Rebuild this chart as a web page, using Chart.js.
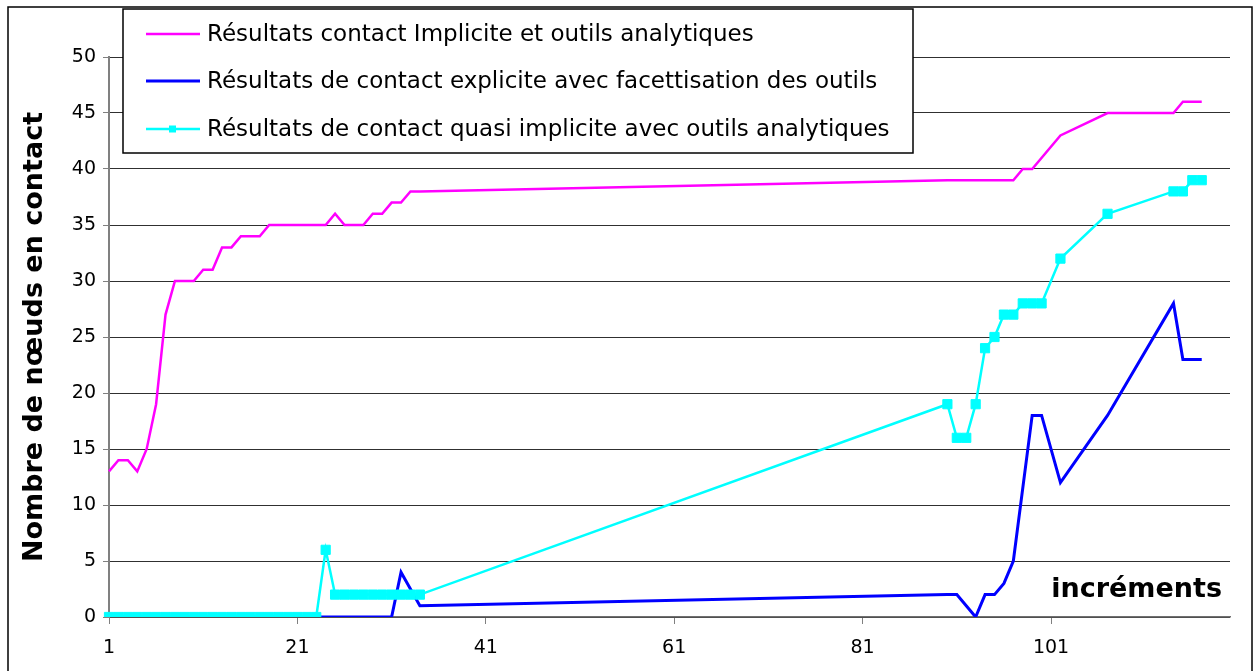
<!DOCTYPE html>
<html lang="fr">
<head>
<meta charset="utf-8">
<title>Nombre de nœuds en contact</title>
<script src="https://cdn.jsdelivr.net/npm/chart.js@4.4.1/dist/chart.umd.min.js"></script>
<style>
  html, body { margin: 0; padding: 0; background: #fff; }
  #wrap { position: relative; width: 1257px; height: 671px; }
</style>
</head>
<body>
<div id="wrap"><canvas id="chart"></canvas></div>
<script>
// increments on the x axis (1..120), only every 20th one is labelled
const increments = Array.from({ length: 120 }, (_, i) => String(i + 1));
const labelledIncrements = ['1', '21', '41', '61', '81', '101'];

const seriesNames = [
  'Résultats contact Implicite et outils analytiques',
  'Résultats de contact explicite avec facettisation des outils',
  'Résultats de contact quasi implicite avec outils analytiques',
];

// [increment, nodes in contact]
const implicite = [
  [1, 13], [2, 14], [3, 14], [4, 13], [5, 15], [6, 19], [7, 27], [8, 30], [9, 30], [10, 30],
  [11, 31], [12, 31], [13, 33], [14, 33], [15, 34], [16, 34], [17, 34], [18, 35], [19, 35], [20, 35],
  [21, 35], [22, 35], [23, 35], [24, 35], [25, 36], [26, 35], [27, 35], [28, 35], [29, 36], [30, 36],
  [31, 37], [32, 37], [33, 38], [34, 38],
  [90, 39], [91, 39], [92, 39], [93, 39], [94, 39], [95, 39], [96, 39], [97, 39], [98, 40], [99, 40],
  [102, 43],
  [107, 45], [108, 45], [109, 45], [110, 45], [111, 45], [112, 45], [113, 45], [114, 45],
  [115, 46], [116, 46], [117, 46],
];

const explicite = [
  [1, 0], [2, 0], [3, 0], [4, 0], [5, 0], [6, 0], [7, 0], [8, 0], [9, 0], [10, 0],
  [11, 0], [12, 0], [13, 0], [14, 0], [15, 0], [16, 0], [17, 0], [18, 0], [19, 0], [20, 0],
  [21, 0], [22, 0], [23, 0], [24, 0], [25, 0], [26, 0], [27, 0], [28, 0], [29, 0], [30, 0],
  [31, 0], [32, 4], [34, 1],
  [90, 2], [91, 2], [92, 1], [93, 0], [94, 2], [95, 2], [96, 3], [97, 5], [99, 18], [100, 18],
  [102, 12], [107, 18], [114, 28], [115, 23], [116, 23], [117, 23],
];

const quasiImplicite = [
  [1, 0], [2, 0], [3, 0], [4, 0], [5, 0], [6, 0], [7, 0], [8, 0], [9, 0], [10, 0],
  [11, 0], [12, 0], [13, 0], [14, 0], [15, 0], [16, 0], [17, 0], [18, 0], [19, 0], [20, 0],
  [21, 0], [22, 0], [23, 0], [24, 6], [25, 2], [26, 2], [27, 2], [28, 2], [29, 2], [30, 2],
  [31, 2], [32, 2], [33, 2], [34, 2],
  [90, 19], [91, 16], [92, 16], [93, 19], [94, 24], [95, 25], [96, 27], [97, 27], [98, 28], [99, 28],
  [100, 28], [102, 32], [107, 36], [114, 38], [115, 38], [116, 39], [117, 39],
];

const FONT = '"DejaVu Sans", "Liberation Sans", Arial, sans-serif';

// one value per increment, empty rows stay null
function toSeries(pairs) {
  const out = increments.map(() => null);
  pairs.forEach(([inc, v]) => { out[inc - 1] = v; });
  return out;
}

const chartFrame = {
  id: 'chartFrame',
  beforeDraw(chart) {
    const { ctx, width, height } = chart;
    ctx.save();
    ctx.fillStyle = '#fff';
    ctx.fillRect(0, 0, width, height);
    ctx.strokeStyle = '#000';
    ctx.lineWidth = 1.5;
    ctx.strokeRect(8, 7, 1244, 700);
    ctx.restore();
  },
};

// legend box drawn over the top of the plot
const boxLegend = {
  id: 'boxLegend',
  afterDraw(chart, args, opts) {
    const { ctx } = chart;
    const { x, y, w, h, rows } = opts;
    ctx.save();
    ctx.fillStyle = '#fff';
    ctx.fillRect(x, y, w, h);
    ctx.strokeStyle = '#000';
    ctx.lineWidth = 1.5;
    ctx.strokeRect(x, y, w, h);
    ctx.font = `23px ${FONT}`;
    ctx.textBaseline = 'middle';
    ctx.fillStyle = '#000';
    chart.data.datasets.forEach((ds, i) => {
      const ry = rows[i];
      ctx.strokeStyle = ds.borderColor;
      ctx.lineWidth = ds.borderWidth;
      ctx.beginPath();
      ctx.moveTo(x + 23, ry);
      ctx.lineTo(x + 77, ry);
      ctx.stroke();
      if (ds.pointRadius > 0) {
        ctx.fillStyle = ds.pointBackgroundColor;
        ctx.fillRect(x + 46, ry - 3.5, 7, 7);
      }
      ctx.fillStyle = '#000';
      ctx.fillText(ds.label, x + 84, ry + 1);
    });
    ctx.restore();
  },
};

const axisNote = {
  id: 'axisNote',
  afterDraw(chart, args, opts) {
    const { ctx } = chart;
    ctx.save();
    ctx.font = `bold 27px ${FONT}`;
    ctx.fillStyle = '#000';
    ctx.textAlign = 'right';
    ctx.textBaseline = 'alphabetic';
    ctx.fillText(opts.text, opts.x, opts.y);
    ctx.restore();
  },
};

new Chart(document.getElementById('chart'), {
  type: 'line',
  data: {
    labels: increments,
    datasets: [
      {
        label: seriesNames[0],
        data: toSeries(implicite),
        borderColor: '#ff00ff',
        borderWidth: 2.5,
        pointRadius: 0,
        order: 3,
      },
      {
        label: seriesNames[1],
        data: toSeries(explicite),
        borderColor: '#0000ff',
        borderWidth: 3,
        pointRadius: 0,
        order: 2,
      },
      {
        label: seriesNames[2],
        data: toSeries(quasiImplicite),
        borderColor: '#00ffff',
        borderWidth: 2.5,
        pointStyle: 'rect',
        pointRadius: 6.5,
        pointBackgroundColor: '#00ffff',
        pointBorderColor: '#00ffff',
        pointBorderWidth: 1,
        order: 1,
      },
    ],
  },
  options: {
    responsive: true,
    maintainAspectRatio: false,
    animation: false,
    events: [],
    spanGaps: true,
    elements: { line: { tension: 0 } },
    layout: { padding: { top: 57, right: 27, bottom: 0, left: 0 } },
    scales: {
      x: {
        type: 'category',
        offset: false,
        afterBuildTicks: (scale) => {
          scale.ticks = scale.ticks.filter((t) => labelledIncrements.includes(increments[t.value]));
        },
        afterFit: (scale) => { scale.height = 54; },
        grid: {
          drawOnChartArea: false,
          drawTicks: true,
          tickLength: 7,
          color: '#808080',
        },
        border: { display: true, color: '#707070', width: 1.5 },
        ticks: {
          autoSkip: false,
          maxRotation: 0,
          minRotation: 0,
          padding: 13,
          color: '#000',
          font: { family: FONT, size: 19 },
        },
      },
      y: {
        min: 0,
        max: 50,
        afterFit: (scale) => { scale.width = 109; },
        grid: {
          color: '#303030',
          lineWidth: 1,
          drawTicks: true,
          tickLength: 6,
          tickColor: '#808080',
        },
        border: { display: true, color: '#808080', width: 2 },
        ticks: {
          stepSize: 5,
          padding: 7,
          color: '#000',
          font: { family: FONT, size: 19 },
        },
        title: {
          display: true,
          text: 'Nombre de nœuds en contact',
          color: '#000',
          font: { family: FONT, size: 27, weight: 'bold' },
          padding: { top: 19, bottom: 0 },
        },
      },
    },
    plugins: {
      legend: { display: false },
      tooltip: { enabled: false },
      boxLegend: { x: 123, y: 9, w: 790, h: 144, rows: [34, 81, 129] },
      axisNote: { text: 'incréments', x: 1222, y: 597 },
    },
  },
  plugins: [chartFrame, boxLegend, axisNote],
});
</script>
</body>
</html>
